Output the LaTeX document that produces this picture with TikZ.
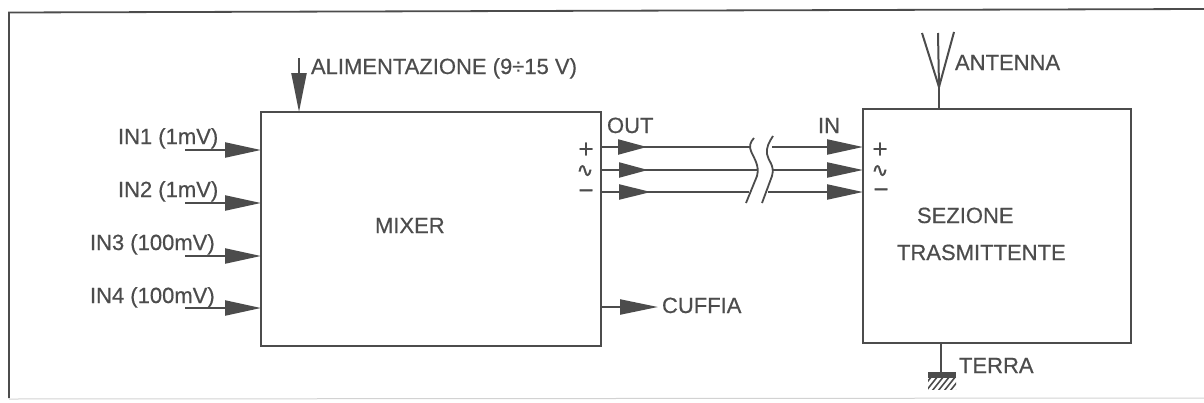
\documentclass[tikz,border=0pt]{standalone}
\usepackage{fontspec}
\setmainfont{Liberation Sans}[FakeBold=0.5]
\newfontfamily\symf{DejaVu Sans}[FakeBold=1.6]
\usetikzlibrary{arrows.meta}
\definecolor{ink}{gray}{0.3}
\tikzset{
  x=1pt,y=-1pt,
  every node/.style={inner sep=0pt,outer sep=0pt,text=ink,font=\fontsize{22}{22}\selectfont,anchor=base west},
  signmark/.style={anchor=center,font=\symf\fontsize{20}{20}\selectfont},
  blockbox/.style={draw=ink,line width=2.2pt},
  wire/.style={draw=ink,line width=2.2pt},
  sig/.style={draw=ink,line width=2.2pt,-{Triangle[length=36pt,width=15pt]}},
  brk/.style={draw=ink,line width=1.8pt},
}
\begin{document}
\begin{tikzpicture}
\useasboundingbox (0,0) rectangle (1204,402);
\draw[draw=ink,line width=1.8pt] (9,398) -- (9,12.5) -- (1204,9);
\draw[draw=ink!25,line width=1pt] (9,399) -- (1204,398);

% blocks
\node[blockbox,minimum width=340pt,minimum height=234pt,anchor=north west] (mixer) at (261,112) {};
\node[blockbox,minimum width=268pt,minimum height=234pt,anchor=north west] (tx) at (863,109) {};
\node (mixerlabel) at (375,233) {MIXER};
\node (sez) at (917,223) {SEZIONE};
\node (tras) at (897,260) {TRASMITTENTE};

% power
\coordinate (pw) at (299,58);
\draw[draw=ink,line width=2.2pt,-{Triangle[length=39pt,width=15pt]}] (pw) -- (299,112);
\node (alim) at (311,74) {ALIMENTAZIONE (9÷15 V)};

% inputs
\node (in1) at (118,144) {IN1 (1mV)};
\node (in2) at (118,197) {IN2 (1mV)};
\node (in3) at (90,250) {IN3 (100mV)};
\node (in4) at (90,303) {IN4 (100mV)};
\coordinate (i1) at (185,150);
\coordinate (i2) at (185,203);
\coordinate (i3) at (185,256);
\coordinate (i4) at (185,308);
\draw[sig] (i1) -- (261,150);
\draw[sig] (i2) -- (261,203);
\draw[sig] (i3) -- (261,256);
\draw[sig] (i4) -- (261,308);

% out
\node (out) at (607,133) {OUT};
\node (inn) at (818,133) {IN};
\coordinate (o1) at (601,147);
\coordinate (o2) at (601,170);
\coordinate (o3) at (601,192);
\coordinate (a1) at (750,147);
\coordinate (a2) at (757,170);
\coordinate (a3) at (749,192);
\coordinate (b1) at (772,147);
\coordinate (b2) at (773,170);
\coordinate (b3) at (768,192);
\coordinate (e1) at (863,147);
\coordinate (e2) at (863,170);
\coordinate (e3) at (863,192);
\draw[draw=ink,line width=2.2pt,-{Triangle[length=29pt,width=15pt]}] (o1) -- (647,147);
\draw[draw=ink,line width=2.2pt,-{Triangle[length=29pt,width=15pt]}] (o2) -- (648,170);
\draw[draw=ink,line width=2.2pt,-{Triangle[length=32pt,width=15pt]}] (o3) -- (651,192);
\draw[wire] (640,147) -- (a1);
\draw[wire] (640,170) -- (a2);
\draw[wire] (640,192) -- (a3);
\draw[sig] (b1) -- (e1);
\draw[sig] (b2) -- (e2);
\draw[sig] (b3) -- (e3);
\draw[brk] (754,138) .. controls (750,142) and (749,147) .. (751,151) .. controls (753,157) and (760,165) .. (757,176) -- (746,203);
\draw[brk] (773,136) .. controls (769,142) and (766,148) .. (767,154) .. controls (768,161) and (775,165) .. (772,176) -- (762,203);

% signs
\node[signmark] (p1) at (586,149) {+};
\node[signmark] (t1) at (585,171) {∿};
\node[signmark] (m1) at (586,193) {\char"2212};
\node[signmark] (p2) at (880,149) {+};
\node[signmark] (t2) at (880,171) {∿};
\node[signmark] (m2) at (881,192) {\char"2212};

% cuffia
\node (cuffia) at (662,313) {CUFFIA};
\coordinate (cf) at (658,307);
\draw[draw=ink,line width=2.2pt,-{Triangle[length=38pt,width=15pt]}] (601,307) -- (cf);

% antenna
\coordinate (ant) at (939,87);
\draw[wire] (tx.north west -| ant) -- (ant);
\draw[draw=ink,line width=2pt] (ant) -- (922,33);
\draw[draw=ink,line width=2pt] (ant) -- (938,33);
\draw[draw=ink,line width=2pt] (ant) -- (954,32);
\node (antenna) at (955,70) {ANTENNA};

% terra
\coordinate (gnd) at (941,372);
\draw[wire] (tx.south west -| gnd) -- (gnd);
\fill[ink] (928,372) rectangle (956,378);
\begin{scope}
\clip (928,378) rectangle (956,389);
\foreach \h in {0,6,...,42}
  \draw[ink,line width=1.6pt] (920+\h,391) -- (932+\h,376);
\end{scope}
\node (terra) at (959,373) {TERRA};
\end{tikzpicture}
\end{document}
